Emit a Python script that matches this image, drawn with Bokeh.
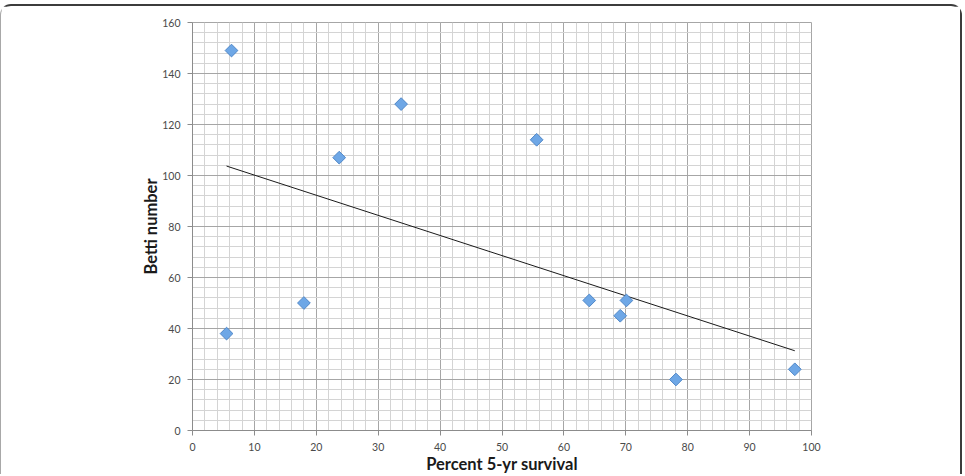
import numpy as np
from bokeh.plotting import figure
from bokeh.models import SingleIntervalTicker, Range1d
from bokeh.embed import file_html
from bokeh.resources import INLINE

# Data
survival = [5.5, 6.3, 18.0, 23.7, 33.7, 55.6, 64.1, 69.1, 70.1, 78.1, 97.3]
betti = [38, 149, 50, 107, 128, 114, 51, 45, 51, 20, 24]

FONT = "Lato"

p = figure(width=962, height=470, output_backend="svg", toolbar_location=None,
           x_range=Range1d(0, 100), y_range=Range1d(0, 160),
           min_border_left=191, min_border_right=152, min_border_top=16, min_border_bottom=46,
           background_fill_color="white", border_fill_color="white")

p.styles = {"margin-top": "4px",
            "border-top": "2px solid #3c3c3c", "border-right": "2px solid #3c3c3c",
            "border-left": "1px solid #a8a8a8", "border-radius": "11px 11px 0 0"}

p.xaxis.ticker = SingleIntervalTicker(interval=10, num_minor_ticks=5)
p.yaxis.ticker = SingleIntervalTicker(interval=20, num_minor_ticks=5)

for g in (p.xgrid, p.ygrid):
    g.grid_line_color = "#a6a6a6"
    g.grid_line_width = 1
    g.minor_grid_line_color = "#d4d4d4"
    g.minor_grid_line_width = 1
p.outline_line_color = "#a6a6a6"

for ax in (p.xaxis, p.yaxis):
    ax.axis_line_color = "#8c8c8c"
    ax.major_tick_line_color = "#8c8c8c"
    ax.major_tick_out = 5
    ax.major_tick_in = 0
    ax.minor_tick_out = 0
    ax.minor_tick_in = 0
    ax.major_label_text_font = FONT
    ax.major_label_text_font_size = "10.5px"
    ax.major_label_text_color = "#4a4a4a"
    ax.axis_label_text_font = FONT
    ax.axis_label_text_font_style = "bold"
    ax.axis_label_text_font_size = "16.5px"
    ax.axis_label_text_color = "#1a1a1a"

p.xaxis.axis_label = "Percent 5-yr survival"
p.yaxis.axis_label = "Betti number"
p.xaxis.major_label_standoff = 7
p.xaxis.axis_label_standoff = 0
p.yaxis.major_label_standoff = 7
p.yaxis.axis_label_standoff = -2

# Linear trend line fitted to the data
slope, intercept = np.polyfit(survival, betti, 1)
tx = [min(survival), max(survival)]
ty = [slope * v + intercept for v in tx]
p.line(tx, ty, line_color="#1a1a1a", line_width=1)

p.scatter(survival, betti, marker="square", angle=np.pi / 4, size=9,
          fill_color="#6ea7e6", line_color="#4f87c8", line_width=1)

open("out.html", "w").write(file_html(p, INLINE))
